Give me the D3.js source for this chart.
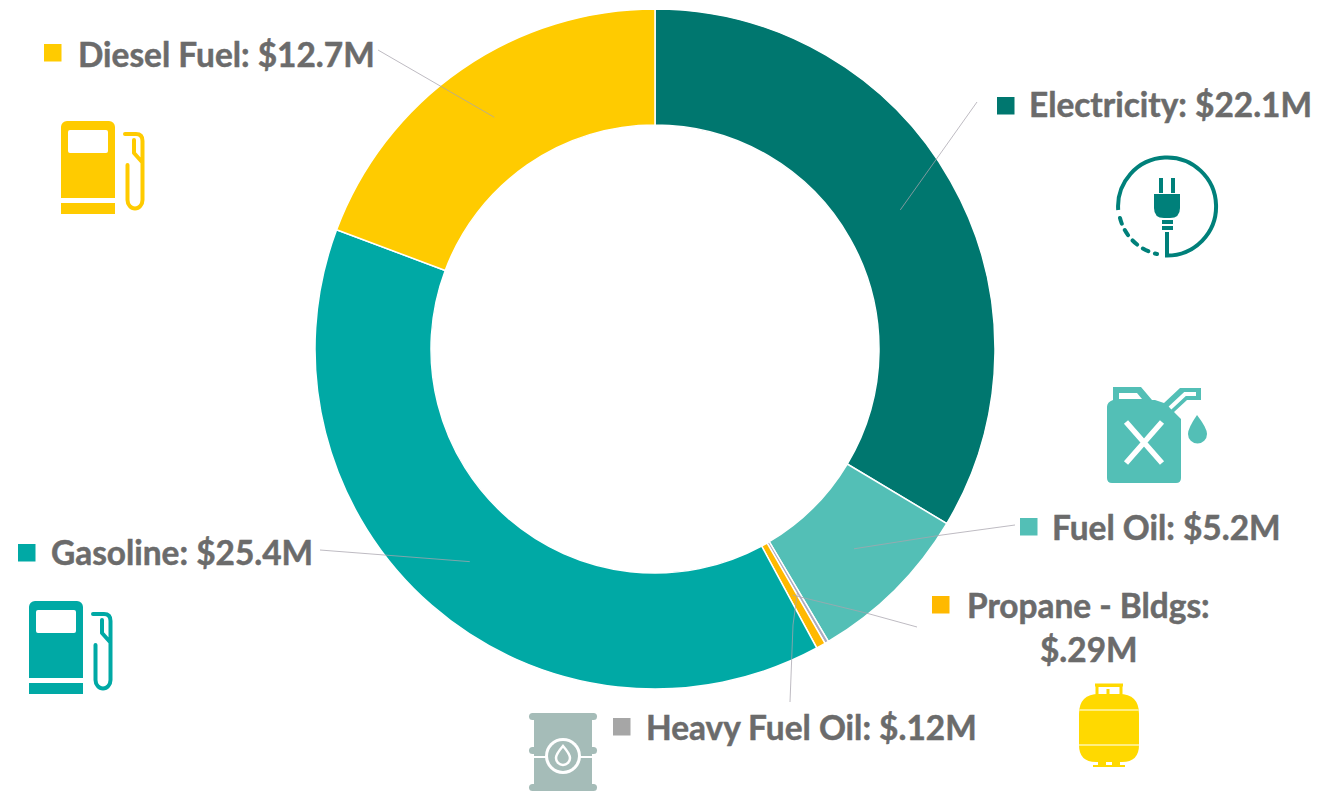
<!DOCTYPE html>
<html>
<head>
<meta charset="utf-8">
<script src="https://cdn.jsdelivr.net/npm/d3@7"></script>
<style>
  html, body { margin: 0; padding: 0; background: #fff; }
  svg { display: block; }
  .label { font-family: Lato, sans-serif; font-weight: 700; font-size: 33.4px; fill: #6b6b6b; stroke: #6b6b6b; stroke-width: 0.5; }
  .leader { fill: none; stroke: #a8a4ae; stroke-width: 1; stroke-opacity: 0.75; }
</style>
</head>
<body>
<svg id="chart" width="1334" height="791"></svg>
<script>
// clockwise from 12 o'clock, values in $M
var categories = ["Electricity", "Fuel Oil", "Heavy Fuel Oil", "Propane - Bldgs", "Gasoline", "Diesel Fuel"]
var values = [22.1, 5.2, 0.12, 0.29, 25.4, 12.7]
var valueLabels = ["$22.1M", "$5.2M", "$.12M", "$.29M", "$25.4M", "$12.7M"]
var sliceColors = ["#00776f", "#53bfb6", "#adacc0", "#ffb900", "#00a9a5", "#ffcb00"]

// label placement, same order as categories
// sq = legend square corner, tx/ty = text start, line = where the leader leaves the label
var labelLayout = [
  { sq: [997, 97],   tx: 1029, ty: 117, line: [[977, 102]] },
  { sq: [1020, 518], tx: 1052, ty: 540, line: [[1015, 525], [942, 535]] },
  { sq: [613, 718],  tx: 646,  ty: 740, line: [[790, 702], [793, 625]] },
  { sq: [932, 596],  tx: 967,  ty: 618, line: [[917, 627], [866, 613]], second: { tx: 1040, ty: 662 } },
  { sq: [18, 544],   tx: 51,   ty: 565, line: [[320, 550]] },
  { sq: [44, 44],    tx: 78,   ty: 67,  line: [[378, 50]] }
]

var svg = d3.select("#chart")
var cx = 655, cy = 349, outerR = 340, innerR = 224

var pie = d3.pie().sort(null).value(function(d) { return d })
var arc = d3.arc().innerRadius(innerR).outerRadius(outerR)
var arcs = pie(values)

var ring = svg.append("g").attr("transform", "translate(" + cx + "," + cy + ")")
ring.selectAll("path")
  .data(arcs)
  .enter().append("path")
  .attr("d", arc)
  .attr("fill", function(d, i) { return sliceColors[i] })
  .attr("stroke", "#fff")
  .attr("stroke-width", 1.5)

// leaders run from the label to the slice centroid
var lineGen = d3.line()
svg.selectAll("path.leader")
  .data(arcs)
  .enter().append("path")
  .attr("class", "leader")
  .attr("d", function(d, i) {
    var c = arc.centroid(d)
    return lineGen(labelLayout[i].line.concat([[c[0] + cx, c[1] + cy]]))
  })

// labels
categories.forEach(function(name, i) {
  var l = labelLayout[i]
  svg.append("rect").attr("x", l.sq[0]).attr("y", l.sq[1]).attr("width", 17.5).attr("height", 17.5)
    .attr("fill", i == 2 ? "#a6a6a6" : sliceColors[i])
  if (l.second) {
    svg.append("text").attr("class", "label").attr("x", l.tx).attr("y", l.ty).text(name + ":")
    svg.append("text").attr("class", "label").attr("x", l.second.tx).attr("y", l.second.ty).text(valueLabels[i])
  } else {
    svg.append("text").attr("class", "label").attr("x", l.tx).attr("y", l.ty).text(name + ": " + valueLabels[i])
  }
})

// ---- icons ----

function pumpIcon(dx, dy, color) {
  var g = svg.append("g").attr("transform", "translate(" + dx + "," + dy + ")")
  g.append("path").attr("fill", color).attr("fill-rule", "evenodd")
    .attr("d", "M61 198V127a6 6 0 0 1 6-6h42a6 6 0 0 1 6 6v71Z M70 130a2 2 0 0 0-2 2v19a2 2 0 0 0 2 2h36a2 2 0 0 0 2-2v-19a2 2 0 0 0-2-2Z")
  g.append("rect").attr("x", 61).attr("y", 203).attr("width", 54).attr("height", 11).attr("fill", color)
  g.append("path").attr("fill", "none").attr("stroke", color).attr("stroke-width", 4)
    .attr("stroke-linecap", "round").attr("stroke-linejoin", "round")
    .attr("d", "M125 134H136Q142.5 134 142.5 141V200A7.5 8.5 0 0 1 127.5 200V165 M134 140V153L142 162")
}
pumpIcon(0, 0, "#ffcb00")
pumpIcon(-32, 480, "#00a9a5")

// plug
var plug = svg.append("g").attr("fill", "none").attr("stroke", "#00807a").attr("stroke-width", 4)
plug.append("path").attr("d", "M1167 232V255.5A49 49 0 1 0 1118.2 210")
plug.append("path").attr("stroke-dasharray", "6 7").attr("stroke-linecap", "round")
  .attr("d", "M1120 218A49 49 0 0 0 1157 254")
var plugFill = svg.append("g").attr("fill", "#00807a")
plugFill.append("path").attr("d", "M1154 194H1180V208Q1180 218 1170 218H1164Q1154 218 1154 208Z")
plugFill.append("rect").attr("x", 1159).attr("y", 178).attr("width", 4).attr("height", 15)
plugFill.append("rect").attr("x", 1171).attr("y", 178).attr("width", 4).attr("height", 15)
plugFill.append("rect").attr("x", 1162).attr("y", 220).attr("width", 11).attr("height", 4)
plugFill.append("rect").attr("x", 1162).attr("y", 226).attr("width", 11).attr("height", 4)

// jerry can
var can = svg.append("g")
can.append("path").attr("fill", "#53bfb6").attr("fill-rule", "evenodd")
  .attr("d", "M1113 387H1141L1152 400H1155L1164 403 1180 388H1201V400H1187L1174 412 1181 419V478Q1181 483 1176 483H1112Q1107 483 1107 478V407Q1107 402 1113 400Z M1119 393V399H1142L1137 393Z")
can.append("path").attr("fill", "none").attr("stroke", "#fff").attr("stroke-width", 5.5)
  .attr("d", "M1126 422L1162 463 M1162 422L1126 463")
can.append("path").attr("fill", "none").attr("stroke", "#fff").attr("stroke-width", 4)
  .attr("d", "M1170 408L1185 394H1196")
can.append("path").attr("fill", "#53bfb6").attr("d", "M1197 415Q1207 428 1207 434A9.5 9.5 0 0 1 1188 434Q1188 428 1197 415Z")

// barrel
var barrel = svg.append("g")
var barrelColor = "#a5bcb8"
barrel.append("rect").attr("x", 534).attr("y", 716).attr("width", 58).attr("height", 75).attr("fill", barrelColor)
var rimY = [716, 750, 787]
barrel.selectAll("rect.rim").data(rimY).enter().append("rect").attr("class", "rim")
  .attr("x", 529).attr("width", 68).attr("height", 7).attr("rx", 3.5)
  .attr("y", function(d) { return d - 3 }).attr("fill", barrelColor)
barrel.append("rect").attr("x", 529).attr("y", 756).attr("width", 68).attr("height", 2).attr("fill", "#fff")
barrel.append("circle").attr("cx", 563).attr("cy", 756).attr("r", 18).attr("fill", "#fff")
barrel.append("circle").attr("cx", 563).attr("cy", 756).attr("r", 15).attr("fill", barrelColor)
barrel.append("path").attr("fill", "none").attr("stroke", "#fff").attr("stroke-width", 2.5)
  .attr("d", "M563 746Q570 754 570 758A7 7 0 0 1 556 758Q556 754 563 746Z")

// propane tank
var tank = svg.append("g").attr("fill", "#ffd900")
tank.append("path").attr("d", "M1079 745V714Q1079 694 1099 694H1119Q1139 694 1139 714V745Q1139 762 1122 762H1096Q1079 762 1079 745Z")
tank.append("path").attr("fill", "none").attr("stroke", "#ffd900").attr("stroke-width", 3)
  .attr("d", "M1097 696V685.5H1121V696 M1095 685H1123 M1108 696V689")
tank.append("path").attr("d", "M1093 767H1125V765H1120V762H1112V765H1106V762H1098V765H1093Z")
tank.append("rect").attr("x", 1079).attr("y", 709).attr("width", 60).attr("height", 2).attr("fill", "#ffee80")
tank.append("rect").attr("x", 1079).attr("y", 744).attr("width", 60).attr("height", 2).attr("fill", "#ffee80")
</script>
</body>
</html>
